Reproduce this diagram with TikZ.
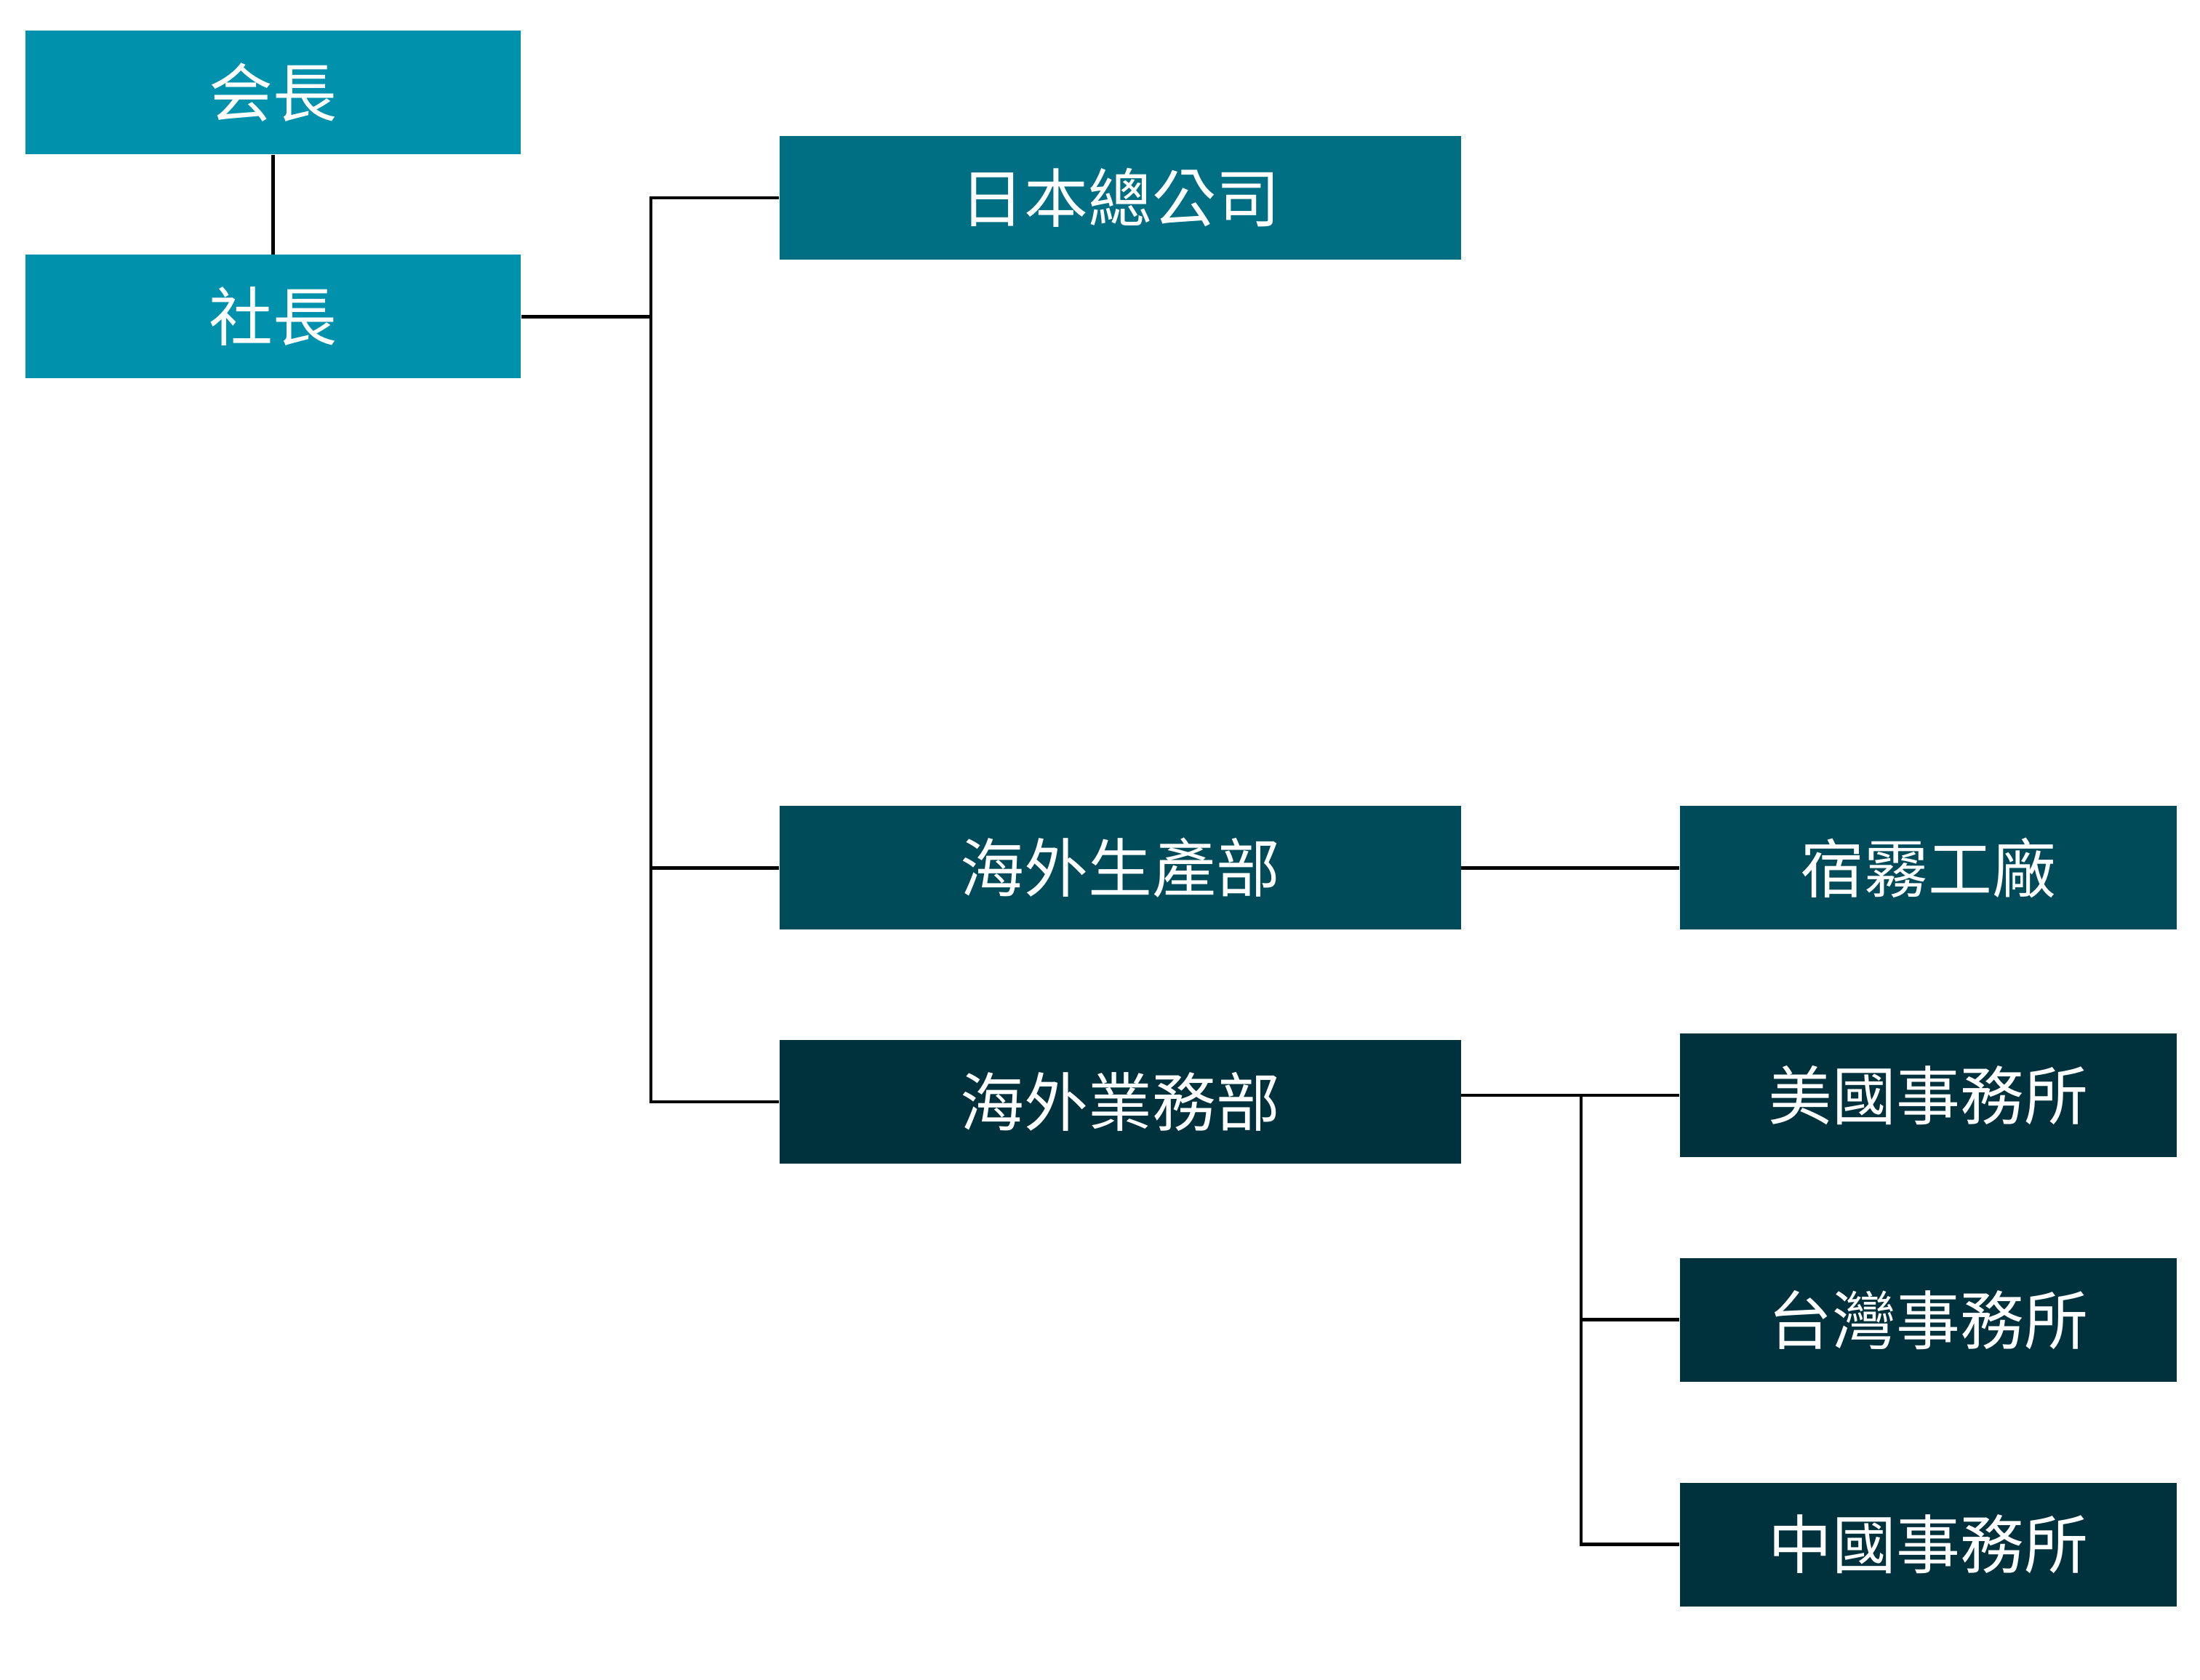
\documentclass[tikz,border=0pt]{standalone}
\usepackage{fontspec}
\newfontfamily\cjk{Noto Sans CJK TC}
\usetikzlibrary{positioning}
\definecolor{chiefblue}{RGB}{0,145,173}
\definecolor{hqblue}{RGB}{0,111,132}
\definecolor{prodblue}{RGB}{0,75,90}
\definecolor{salesblue}{RGB}{0,50,61}
\tikzstyle{unit} = [rectangle, text=white, inner sep=0pt, minimum height=1.7cm,
    font=\cjk\fontsize{25}{30}\selectfont]
\tikzstyle{chief} = [unit, fill=chiefblue, minimum width=6.81cm]
\tikzstyle{hq} = [unit, fill=hqblue, minimum width=9.37cm]
\tikzstyle{prod} = [unit, fill=prodblue, minimum width=9.37cm]
\tikzstyle{sales} = [unit, fill=salesblue, minimum width=9.37cm]
\tikzstyle{office} = [unit, fill=salesblue, minimum width=6.83cm]
\tikzstyle{link} = [draw, line width=1.3pt]

\begin{document}
\begin{tikzpicture}
    \useasboundingbox (0,0) rectangle (30.25,-23.10);

    \node[chief] (chairman) at (3.755,-1.27) {会長};
    \node[chief,below=1.37cm of chairman] (president) {社長};

    \node[hq,anchor=west] (japanHQ) at (10.71,-2.72) {日本總公司};
    \node[prod,below=7.5cm of japanHQ] (overseasProd) {海外生產部};
    \node[sales,below=1.5cm of overseasProd] (overseasSales) {海外業務部};

    \node[prod,right=3.0cm of overseasProd,minimum width=6.83cm] (cebuPlant) {宿霧工廠};
    \node[office,below=1.41cm of cebuPlant] (usOffice) {美國事務所};
    \node[office,below=1.375cm of usOffice] (twOffice) {台灣事務所};
    \node[office,below=1.375cm of twOffice] (cnOffice) {中國事務所};

    \coordinate (trunk) at (8.95,0);
    \coordinate (branch) at (21.74,0);

    \path[link] (chairman) -- (president);
    \path[link] (president.east) -- (president.east -| trunk);
    \path[link] (japanHQ.west) -- (japanHQ.west -| trunk) |- (overseasSales.west);
    \path[link] (overseasProd.west) -- (overseasProd.west -| trunk);

    \path[link] (overseasProd.east) -- (cebuPlant.west);
    \path[link] (usOffice.west -| overseasSales.east) -- (usOffice.west);
    \path[link] (usOffice.west -| branch) |- (cnOffice.west);
    \path[link] (twOffice.west) -- (twOffice.west -| branch);
\end{tikzpicture}
\end{document}
